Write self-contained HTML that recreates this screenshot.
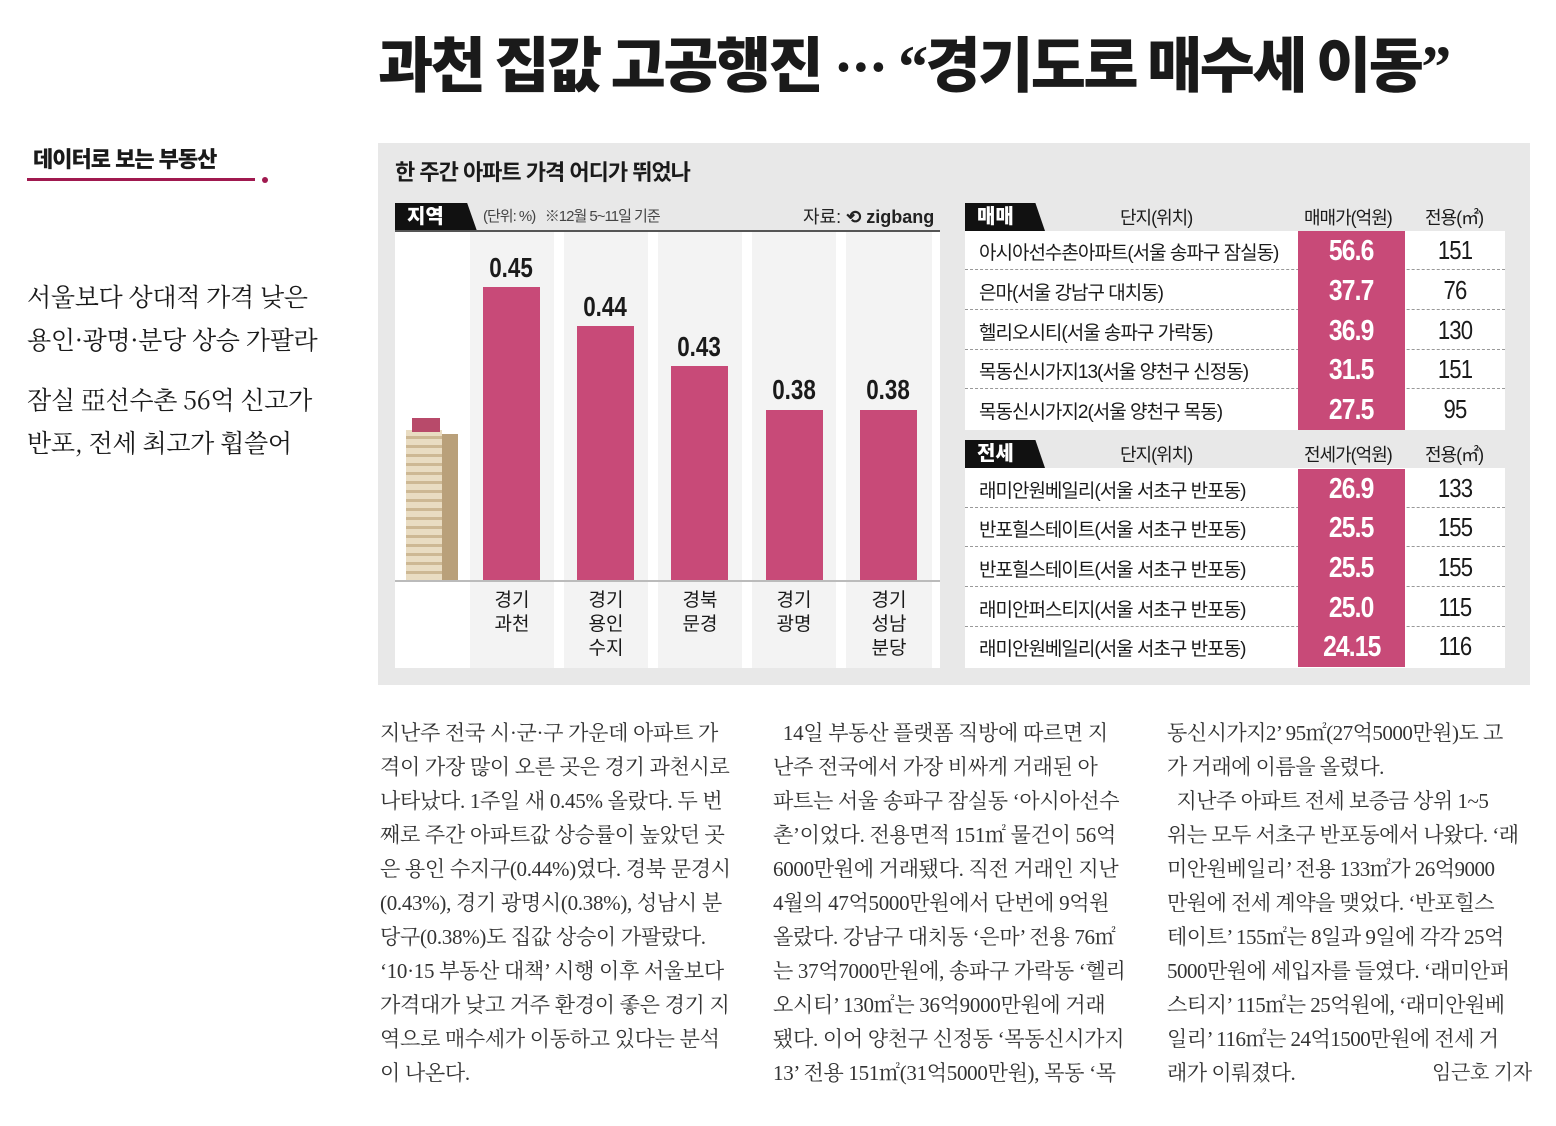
<!DOCTYPE html>
<html><head><meta charset="utf-8"><style>
*{margin:0;padding:0;box-sizing:border-box}
body{width:1556px;height:1126px;background:#fff;position:relative;overflow:hidden;font-family:"Liberation Sans","Noto Sans CJK KR",sans-serif;color:#1a1a1a}
.a{position:absolute;white-space:nowrap}
.title{left:378px;top:18px;font-size:60px;font-weight:900;letter-spacing:-2.6px;font-family:"Liberation Serif","Noto Sans CJK KR",sans-serif}
.title .k{font-family:"Noto Sans CJK KR",sans-serif}
.lt{font-family:"Noto Serif CJK SC",serif;font-size:25px;left:27px;letter-spacing:-0.3px}
.body{font-family:"Liberation Serif","Noto Serif CJK SC",serif;font-size:21px;letter-spacing:-0.3px;color:#333;line-height:34px}
.bar{position:absolute;background:#c84a78;width:57px}
.stripe{position:absolute;background:#f3f3f3;top:232px;height:436px}
.val{position:absolute;font-weight:bold;font-size:28px;width:100px;text-align:center;transform:scaleX(0.8)}
.lab{position:absolute;font-size:19px;text-align:center;width:80px;line-height:24px}
.row{position:absolute;left:965px;width:540px;height:39px;border-bottom:1px dashed #999;font-size:19px;letter-spacing:-1px}
.row .n{position:absolute;left:14px;top:7px}
.row .p{position:absolute;left:333px;width:107px;height:40px;top:0;background:#c84a78;color:#fff;font-weight:bold;font-size:29px;text-align:center;line-height:40px;letter-spacing:-1px}
.row .p i{font-style:normal;display:inline-block;transform:scaleX(0.85)}
.row .s{position:absolute;left:445px;width:90px;text-align:center;top:4px;font-size:26px;transform:scaleX(0.85)}
.hd{position:absolute;font-size:18px;letter-spacing:-1px}
.tag{position:absolute;background:#111;color:#fff;font-weight:900;font-size:20px;height:28px;line-height:28px;padding-left:12px;clip-path:polygon(0 0,88% 0,100% 100%,0 100%)}
</style></head><body>
<div class="a title"><span class="k">과천 집값 고공행진</span> ··· “<span class="k">경기도로 매수세 이동</span>”</div>
<div class="a" style="left:33px;top:142px;font-size:22px;font-weight:900;letter-spacing:-1px">데이터로 보는 부동산</div>
<div class="a" style="left:27px;top:178px;width:228px;height:3px;background:#a0194f"></div>
<div class="a" style="left:262px;top:177px;width:6px;height:6px;border-radius:3px;background:#a0194f"></div>
<div class="a lt" style="top:278px">서울보다 상대적 가격 낮은</div>
<div class="a lt" style="top:321px">용인·광명·분당 상승 가팔라</div>
<div class="a lt" style="top:381px">잠실 亞선수촌 56억 신고가</div>
<div class="a lt" style="top:424px">반포, 전세 최고가 휩쓸어</div>

<div class="a" style="left:378px;top:143px;width:1152px;height:542px;background:#e8e8e8"></div>
<div class="a" style="left:395px;top:155px;font-size:22px;font-weight:bold;letter-spacing:-1px">한 주간 아파트 가격 어디가 뛰었나</div>
<div class="tag" style="left:395px;top:203px;width:82px">지역</div>
<div class="a" style="left:395px;top:230px;width:545px;height:2px;background:#555"></div>
<div class="a" style="left:483px;top:205px;font-size:15px;color:#444;letter-spacing:-1px">(단위: %) &nbsp; ※12월 5~11일 기준</div>
<div class="a" style="left:803px;top:203px;font-size:18px;color:#222">자료: <b>⟲ zigbang</b></div>
<div class="a" style="left:395px;top:232px;width:545px;height:436px;background:#fff"></div>
<div class="stripe" style="left:470px;width:84px"></div>
<div class="stripe" style="left:564px;width:84px"></div>
<div class="stripe" style="left:658px;width:84px"></div>
<div class="stripe" style="left:752px;width:84px"></div>
<div class="stripe" style="left:846px;width:86px"></div>
<div class="a" style="left:395px;top:580px;width:545px;height:2px;background:#bbb"></div>
<div class="bar" style="left:483px;top:287px;height:293px"></div>
<div class="bar" style="left:577px;top:326px;height:254px"></div>
<div class="bar" style="left:671px;top:366px;height:214px"></div>
<div class="bar" style="left:766px;top:410px;height:170px"></div>
<div class="bar" style="left:860px;top:410px;height:170px"></div>
<div class="val" style="left:461px;top:252px">0.45</div>
<div class="val" style="left:555px;top:291px">0.44</div>
<div class="val" style="left:649px;top:331px">0.43</div>
<div class="val" style="left:744px;top:374px">0.38</div>
<div class="val" style="left:838px;top:374px">0.38</div>
<div class="lab" style="left:472px;top:589px">경기<br>과천</div>
<div class="lab" style="left:566px;top:589px">경기<br>용인<br>수지</div>
<div class="lab" style="left:660px;top:589px">경북<br>문경</div>
<div class="lab" style="left:754px;top:589px">경기<br>광명</div>
<div class="lab" style="left:849px;top:589px">경기<br>성남<br>분당</div>
<div class="a" style="left:406px;top:430px;width:36px;height:150px;background:repeating-linear-gradient(#e9dcc2 0 6px,#cdb894 6px 9px)"></div>
<div class="a" style="left:442px;top:434px;width:16px;height:146px;background:#b9a07a"></div>
<div class="a" style="left:412px;top:418px;width:28px;height:14px;background:#b84a6a"></div>

<div class="tag" style="left:965px;top:203px;width:80px">매매</div>
<div class="hd" style="left:1120px;top:204px">단지(위치)</div>
<div class="hd" style="left:1304px;top:204px">매매가(억원)</div>
<div class="hd" style="left:1425px;top:204px">전용(㎡)</div>
<div class="a" style="left:965px;top:231px;width:540px;height:199px;background:#fff"></div>
<div class="row" style="top:231px"><span class="n">아시아선수촌아파트(서울 송파구 잠실동)</span><span class="p"><i>56.6</i></span><span class="s">151</span></div>
<div class="row" style="top:271px"><span class="n">은마(서울 강남구 대치동)</span><span class="p"><i>37.7</i></span><span class="s">76</span></div>
<div class="row" style="top:311px"><span class="n">헬리오시티(서울 송파구 가락동)</span><span class="p"><i>36.9</i></span><span class="s">130</span></div>
<div class="row" style="top:350px"><span class="n">목동신시가지13(서울 양천구 신정동)</span><span class="p"><i>31.5</i></span><span class="s">151</span></div>
<div class="row" style="top:390px;border:none;height:40px"><span class="n">목동신시가지2(서울 양천구 목동)</span><span class="p"><i>27.5</i></span><span class="s">95</span></div>
<div class="tag" style="left:965px;top:440px;width:80px">전세</div>
<div class="hd" style="left:1120px;top:441px">단지(위치)</div>
<div class="hd" style="left:1304px;top:441px">전세가(억원)</div>
<div class="hd" style="left:1425px;top:441px">전용(㎡)</div>
<div class="a" style="left:965px;top:468px;width:540px;height:200px;background:#fff"></div>
<div class="row" style="top:469px"><span class="n">래미안원베일리(서울 서초구 반포동)</span><span class="p"><i>26.9</i></span><span class="s">133</span></div>
<div class="row" style="top:508px"><span class="n">반포힐스테이트(서울 서초구 반포동)</span><span class="p"><i>25.5</i></span><span class="s">155</span></div>
<div class="row" style="top:548px"><span class="n">반포힐스테이트(서울 서초구 반포동)</span><span class="p"><i>25.5</i></span><span class="s">155</span></div>
<div class="row" style="top:588px"><span class="n">래미안퍼스티지(서울 서초구 반포동)</span><span class="p"><i>25.0</i></span><span class="s">115</span></div>
<div class="row" style="top:627px;border:none;height:41px"><span class="n">래미안원베일리(서울 서초구 반포동)</span><span class="p"><i>24.15</i></span><span class="s">116</span></div>

<div class="a body" style="left:380px;top:716px">지난주 전국 시·군·구 가운데 아파트 가<br>격이 가장 많이 오른 곳은 경기 과천시로<br>나타났다. 1주일 새 0.45% 올랐다. 두 번<br>째로 주간 아파트값 상승률이 높았던 곳<br>은 용인 수지구(0.44%)였다. 경북 문경시<br>(0.43%), 경기 광명시(0.38%), 성남시 분<br>당구(0.38%)도 집값 상승이 가팔랐다.<br>‘10·15 부동산 대책’ 시행 이후 서울보다<br>가격대가 낮고 거주 환경이 좋은 경기 지<br>역으로 매수세가 이동하고 있다는 분석<br>이 나온다.</div>
<div class="a body" style="left:773px;top:716px">&nbsp; 14일 부동산 플랫폼 직방에 따르면 지<br>난주 전국에서 가장 비싸게 거래된 아<br>파트는 서울 송파구 잠실동 ‘아시아선수<br>촌’이었다. 전용면적 151㎡ 물건이 56억<br>6000만원에 거래됐다. 직전 거래인 지난<br>4월의 47억5000만원에서 단번에 9억원<br>올랐다. 강남구 대치동 ‘은마’ 전용 76㎡<br>는 37억7000만원에, 송파구 가락동 ‘헬리<br>오시티’ 130㎡는 36억9000만원에 거래<br>됐다. 이어 양천구 신정동 ‘목동신시가지<br>13’ 전용 151㎡(31억5000만원), 목동 ‘목</div>
<div class="a body" style="left:1167px;top:716px;letter-spacing:-0.5px">동신시가지2’ 95㎡(27억5000만원)도 고<br>가 거래에 이름을 올렸다.<br>&nbsp; 지난주 아파트 전세 보증금 상위 1~5<br>위는 모두 서초구 반포동에서 나왔다. ‘래<br>미안원베일리’ 전용 133㎡가 26억9000<br>만원에 전세 계약을 맺었다. ‘반포힐스<br>테이트’ 155㎡는 8일과 9일에 각각 25억<br>5000만원에 세입자를 들였다. ‘래미안퍼<br>스티지’ 115㎡는 25억원에, ‘래미안원베<br>일리’ 116㎡는 24억1500만원에 전세 거<br>래가 이뤄졌다.</div>
<div class="a body" style="left:1432px;top:1056px;font-size:20px">임근호 기자</div>
</body></html>
